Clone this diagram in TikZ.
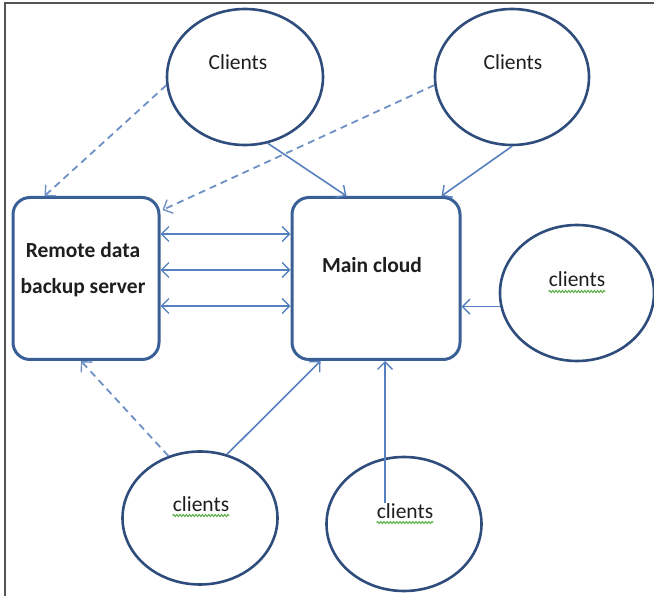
\documentclass[tikz,border=0pt]{standalone}
\usepackage{fontspec}
\setmainfont{Carlito}
\usetikzlibrary{arrows.meta,shapes.geometric,calc,decorations.pathmorphing}

\definecolor{ringcol}{HTML}{2E4C7C}
\definecolor{boxcol}{HTML}{3A5F96}
\definecolor{linkcol}{HTML}{5680BE}
\definecolor{dashcol}{HTML}{6E90C4}
\definecolor{txtcol}{HTML}{1E1E1E}
\definecolor{framecol}{HTML}{555555}
\definecolor{spellcol}{HTML}{4FA83A}

\tikzset{
  client/.style={ellipse, draw=ringcol, line width=2.6pt, inner sep=0pt},
  hostbox/.style={rectangle, rounded corners=17pt, draw=boxcol, line width=3pt, inner sep=0pt},
  label/.style={inner sep=0pt, text=txtcol, font=\fontsize{21.5}{36}\selectfont},
  boldlabel/.style={label, font=\fontsize{21.5}{36}\selectfont\bfseries, align=center},
  tip/.style={-{Straight Barb[length=7.5pt,width=15pt,line width=1.4pt]}},
  link/.style={tip, draw=linkcol, line width=1.6pt},
  backup/.style={tip, draw=dashcol, line width=1.8pt, dash pattern=on 7pt off 5pt},
  twoway/.style={link, {Straight Barb[length=7.5pt,width=15pt,line width=1.4pt]}-{Straight Barb[length=7.5pt,width=15pt,line width=1.4pt]}},
  squiggle/.style={draw=spellcol, line width=0.9pt, decorate,
    decoration={snake, segment length=3.2pt, amplitude=1.1pt}}
}

\begin{document}
\begin{tikzpicture}[x=1pt, y=-1pt]
\useasboundingbox (0,0) rectangle (654,596);

% frame lines along the top and left edges
\draw[framecol, line width=2pt] (5,596) -- (5,3.5) -- (654,3.5);

% server boxes
\node[hostbox, minimum width=146pt, minimum height=162pt] (rem) at (86,278.5) {};
\node[hostbox, minimum width=168pt, minimum height=162pt] (main) at (376,278.5) {};
\node[boldlabel, anchor=base] (remtxt) at (83,294) {Remote data\\backup server};
\node[boldlabel, anchor=base] (maintxt) at (372,273) {Main cloud};

% client groups
\node[client, minimum width=156pt, minimum height=136pt] (tl) at (245,77) {};
\node[client, minimum width=154pt, minimum height=136pt] (tr) at (512,77) {};
\node[client, minimum width=154pt, minimum height=136pt] (rt) at (577,293) {};
\node[client, minimum width=155pt, minimum height=133pt] (bl) at (200,518) {};
\node[client, minimum width=155pt, minimum height=134pt] (br) at (404,524) {};

\node[label, anchor=base] (tltxt) at (238,70) {Clients};
\node[label, anchor=base] (trtxt) at (513,70) {Clients};
\node[label, anchor=base] (rttxt) at (577,287) {clients};
\node[label, anchor=base] (bltxt) at (201,511) {clients};
\node[label, anchor=base] (brtxt) at (405,518) {clients};

% spell-check underlines
\foreach \t in {rttxt,bltxt,brtxt}
  \path[squiggle] ([yshift=-4.5pt]\t.base west) -- ([yshift=-4.5pt]\t.base east);

% backup links (dashed)
\draw[backup] (tl.186) -- ($(rem.north west)+(33,0)$);
\draw[backup] (tr.186) -- ($(rem.north east)+(2,14)$);
\draw[backup] (bl.117) -- ($(rem.south)+(-5,0)$);

% client links to the main cloud
\draw[link] (tl.289) -- ($(main.north west)+(56,0)$);
\draw[link] (tr.270) -- ($(main.north east)+(-20,0)$);
\draw[link] (rt.190) -- (rt.190 -| main.east);
\draw[link] (bl.67) -- ($(main.south west)+(30,0)$);
\coordinate (brin) at (385,503);
\draw[link] (brin) -- (brin |- main.south);

% synchronisation between the two servers
\foreach \dy in {38,74,110}
  \draw[twoway] ($(rem.north east)+(0,\dy)$) -- ($(main.north west)+(0,\dy)$);
\end{tikzpicture}
\end{document}
